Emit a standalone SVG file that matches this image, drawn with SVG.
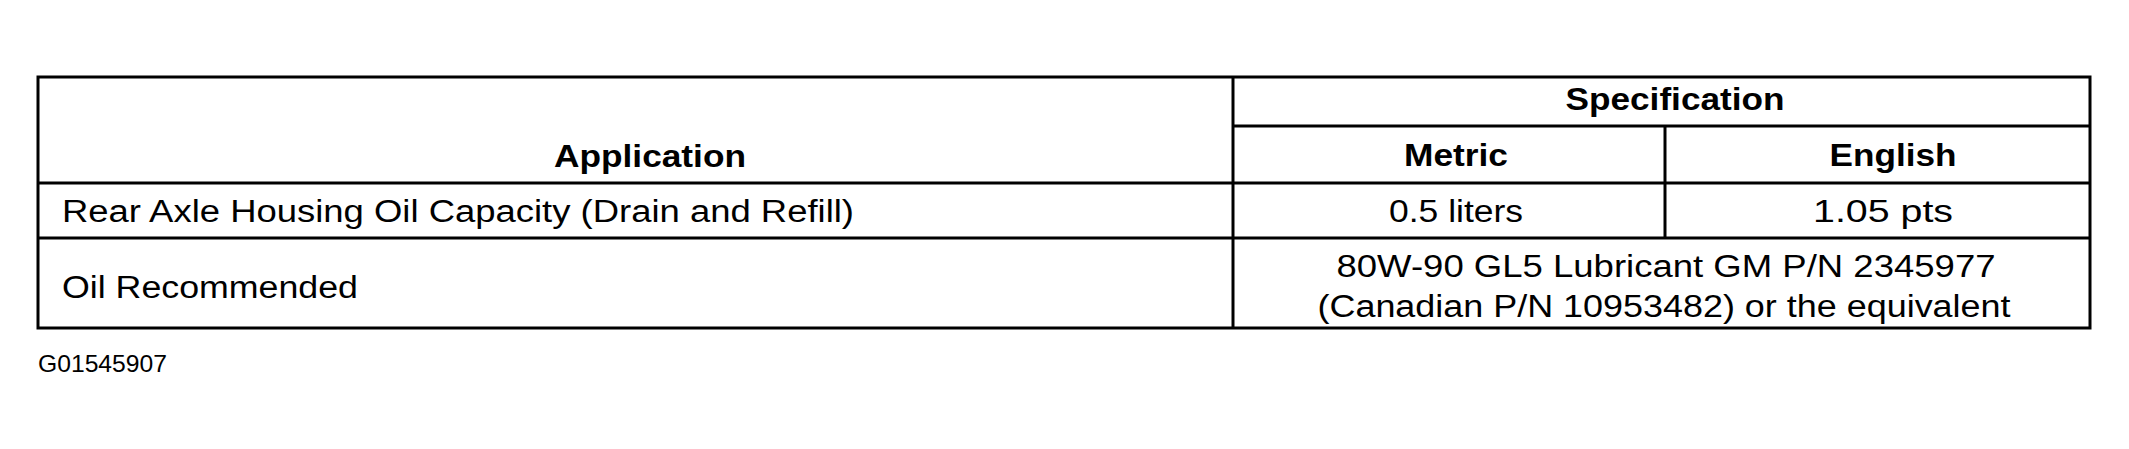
<svg xmlns="http://www.w3.org/2000/svg" width="2129" height="449" viewBox="0 0 2129 449">
<style>
text{font-family:"Liberation Sans",Arial,sans-serif;font-size:31px;fill:#000}
.b{font-weight:bold;font-size:32px}
.c{text-anchor:middle}
.l{stroke:#000;stroke-width:3;fill:none}
</style>
<rect width="2129" height="449" fill="#fff"/>
<g id="table">
<rect class="l" x="38" y="77" width="2052" height="251"/>
<line class="l" x1="1233" y1="77" x2="1233" y2="328"/>
<line class="l" x1="1233" y1="126" x2="2090" y2="126"/>
<line class="l" x1="1665" y1="126" x2="1665" y2="238"/>
<line class="l" x1="38" y1="183" x2="2090" y2="183"/>
<line class="l" x1="38" y1="238" x2="2090" y2="238"/>
</g>
<g id="header">
<text class="b c" x="650" y="167" textLength="192" lengthAdjust="spacingAndGlyphs">Application</text>
<text class="b c" x="1675" y="110" textLength="219" lengthAdjust="spacingAndGlyphs">Specification</text>
<text class="b c" x="1456" y="166" textLength="104" lengthAdjust="spacingAndGlyphs">Metric</text>
<text class="b c" x="1893" y="166" textLength="127" lengthAdjust="spacingAndGlyphs">English</text>
</g>
<g id="row1">
<text x="62" y="222" textLength="792" lengthAdjust="spacingAndGlyphs">Rear Axle Housing Oil Capacity (Drain and Refill)</text>
<text class="c" x="1456" y="222" textLength="134" lengthAdjust="spacingAndGlyphs">0.5 liters</text>
<text class="c" x="1883" y="222" textLength="140" lengthAdjust="spacingAndGlyphs">1.05 pts</text>
</g>
<g id="row2">
<text x="62" y="298" textLength="296" lengthAdjust="spacingAndGlyphs">Oil Recommended</text>
<text class="c" x="1666" y="277" textLength="659" lengthAdjust="spacingAndGlyphs">80W-90 GL5 Lubricant GM P/N  2345977</text>
<text class="c" x="1664" y="317" textLength="693" lengthAdjust="spacingAndGlyphs">(Canadian P/N 10953482) or the equivalent</text>
</g>
<text x="38" y="372" style="font-size:24px" textLength="129" lengthAdjust="spacingAndGlyphs">G01545907</text>
</svg>
